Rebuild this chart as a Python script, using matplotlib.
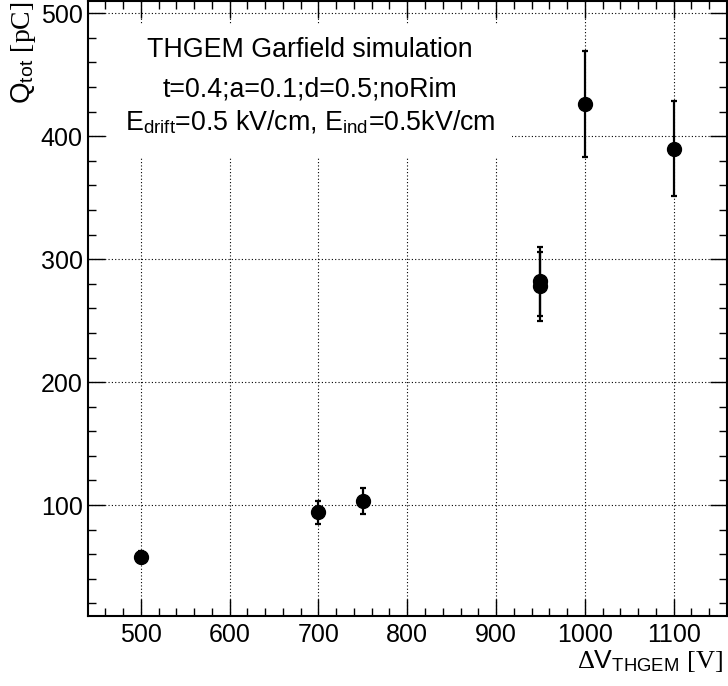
import matplotlib
matplotlib.use("Agg")
import matplotlib.pyplot as plt
from matplotlib.patches import Rectangle

# ---- data ----
voltage = [500, 700, 750, 950, 950, 1000, 1100]
charge = [57.5, 94, 103, 282, 278, 426, 390]
charge_err = [5, 9.5, 10.5, 28, 28, 43, 39]
x_ticks = [500, 600, 700, 800, 900, 1000, 1100]
y_ticks = [100, 200, 300, 400, 500]
info_lines = ["THGEM Garfield simulation",
              "t=0.4;a=0.1;d=0.5;noRim",
              r"E$_{\mathsf{drift}}$=0.5 kV/cm, E$_{\mathsf{ind}}$=0.5kV/cm"]

plt.rcParams['font.family'] = ['Liberation Sans', 'DejaVu Sans']
plt.rcParams['mathtext.fontset'] = 'custom'
plt.rcParams['mathtext.rm'] = 'Liberation Serif'
plt.rcParams['mathtext.sf'] = 'Liberation Sans'
plt.rcParams['mathtext.it'] = 'Liberation Serif:italic'

fig = plt.figure(figsize=(7.28, 6.86), dpi=100)
ax = fig.add_axes([87.5/728, 70.3/686, (727-87.5)/728, (615.7-1)/686])

ax.set_xlim(440, 1160)
ax.set_ylim(10, 510)
ax.set_xticks(x_ticks)
ax.set_yticks(y_ticks)
ax.set_xticks(range(460, 1160, 20), minor=True)
ax.set_yticks(range(20, 510, 20), minor=True)

ax.tick_params(which='both', direction='in', top=True, right=True,
               labelsize=18, colors='black', width=1.0)
ax.tick_params(which='major', length=12)
ax.tick_params(which='minor', length=6)
ax.tick_params(axis='x', which='major', pad=5)
ax.tick_params(axis='y', which='major', pad=3.5)
for s in ax.spines.values():
    s.set_linewidth(1.5)

ax.set_axisbelow(True)
ax.grid(True, which='major', color='black', linestyle=(0, (1, 2)), linewidth=0.8)

# white text pave
ax.add_patch(Rectangle((0.0305, 0.745), 0.6335, 0.217, transform=ax.transAxes,
                       facecolor='white', edgecolor='none', zorder=1))
ys = [0.9089, 0.8443, 0.790]
for t, yy in zip(info_lines, ys):
    ax.text(0.348, yy, t, transform=ax.transAxes, ha='center', va='baseline',
            fontsize=19.3, zorder=2)

ax.errorbar(voltage, charge, yerr=charge_err, fmt='o', color='black',
            markersize=10, elinewidth=1.6, capsize=2, capthick=1.6, zorder=3)

fig.text(723/728, 18/686, r"$\Delta$V$_{\mathsf{THGEM}}$ $\mathrm{[V]}$",
         ha='right', va='baseline', fontsize=19)
fig.text(23/728, 1 - 1/686, r"Q$_{\mathsf{tot}}$ $\mathrm{[pC]}$",
         rotation=90, ha='center', va='top', fontsize=20)

fig.savefig("out.png", dpi=100)
